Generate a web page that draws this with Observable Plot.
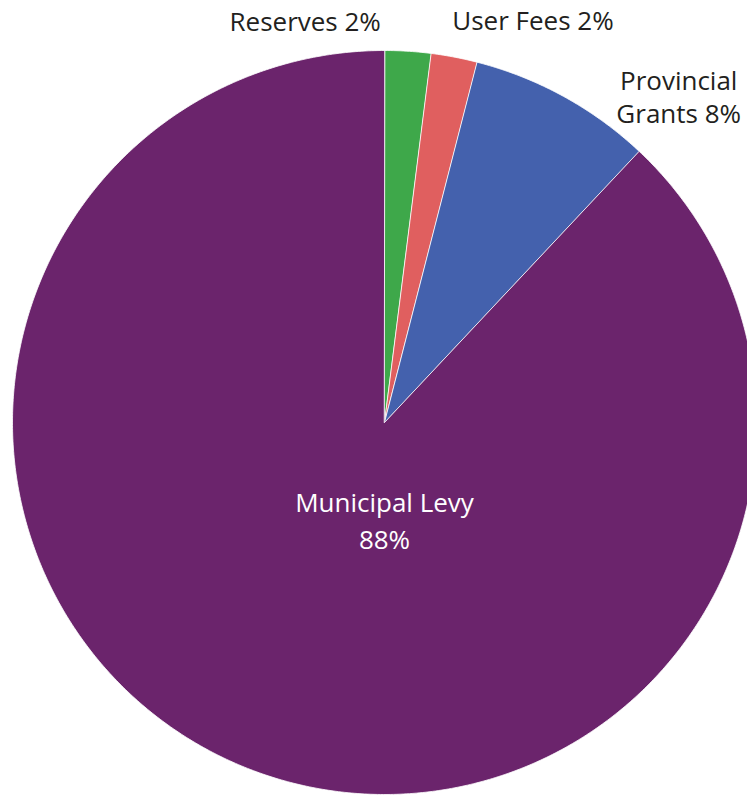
<!DOCTYPE html>
<html>
<head>
<meta charset="utf-8">
<script src="https://cdn.jsdelivr.net/npm/d3@7"></script>
<script src="https://cdn.jsdelivr.net/npm/@observablehq/plot@0.6"></script>
<style>
  html, body { margin: 0; padding: 0; background: #fff; overflow: hidden; }
  #chart { width: 747px; height: 796px; overflow: hidden; }
</style>
</head>
<body>
<div id="chart"></div>
<script>
// ---- data ----
const categories = ["Reserves", "User Fees", "Provincial Grants", "Municipal Levy"];
const shares = [2, 2, 8, 88];
const labels = ["Reserves 2%", "User Fees 2%", "Provincial\nGrants 8%", "Municipal Levy\n88%"];
const palette = ["#3ea84a", "#e05f5f", "#4461ad", "#6b246c"];

// ---- geometry from data (clockwise from 12 o'clock) ----
const total = d3.sum(shares);
const slices = [];
let acc = 0;
categories.forEach((c, i) => {
  const a0 = acc / total * 2 * Math.PI;
  acc += shares[i];
  const a1 = acc / total * 2 * Math.PI;
  slices.push({category: c, a0, a1, mid: (a0 + a1) / 2, label: labels[i]});
});

const pts = [];
for (const s of slices) {
  pts.push({category: s.category, x: 0, y: 0});
  const n = Math.max(2, Math.ceil((s.a1 - s.a0) / (Math.PI / 360)));
  for (let k = 0; k <= n; k++) {
    const a = s.a0 + (s.a1 - s.a0) * k / n;
    pts.push({category: s.category, x: Math.sin(a), y: Math.cos(a)});
  }
}
const edge = s => ({label: s.label, x: Math.sin(s.mid), y: Math.cos(s.mid)});
const byCat = c => slices.find(s => s.category === c);

const font = "'Open Sans', sans-serif";
const fs = 26;
const chart = Plot.plot({
  width: 747,
  height: 796,
  margin: 0,
  style: {background: "#fff", fontFamily: font},
  x: {domain: [-1, 1], range: [12, 756], axis: null},
  y: {domain: [-1, 1], range: [794, 50], axis: null},
  color: {domain: categories, range: palette},
  marks: [
    Plot.line(pts, {x: "x", y: "y", z: "category", fill: "category", stroke: "#ffffff", strokeWidth: 0.8, curve: "linear-closed"}),
    Plot.text([edge(byCat("Reserves"))], {x: "x", y: "y", text: "label", textAnchor: "end", dx: -27, dy: -29, fontSize: fs, fill: "#231f20"}),
    Plot.text([edge(byCat("User Fees"))], {x: "x", y: "y", text: "label", textAnchor: "start", dx: -2, dy: -35, fontSize: fs, fill: "#231f20"}),
    Plot.text([edge(byCat("Provincial Grants"))], {x: "x", y: "y", text: "label", textAnchor: "middle", dx: 115, dy: -0.8, fontSize: fs, lineHeight: 1.3, fill: "#231f20"}),
    Plot.text([{label: byCat("Municipal Levy").label, x: 0, y: 0}], {x: "x", y: "y", text: "label", textAnchor: "middle", dy: 96, fontSize: fs, lineHeight: 1.42, fill: "#ffffff"})
  ]
});
document.getElementById("chart").appendChild(chart);
</script>
</body>
</html>
